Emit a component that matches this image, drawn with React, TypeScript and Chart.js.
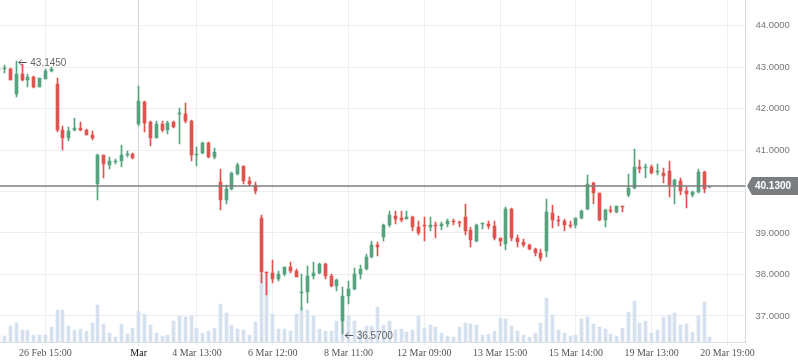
import React, { useEffect, useRef } from 'react';
import { Chart, registerables } from 'chart.js';

Chart.register(...registerables);

// OHLC per hourly candle (index = candle slot)
const opens = [
  42.95, 42.94, 42.95, 42.34, 42.83, 42.69, 42.76, 42.53, 42.72, 42.91,
  42.59, 41.48, 41.29, 41.48, 41.53, 41.48, 41.36, 40.17, 40.88, 40.64,
  40.72, 40.73, 40.89, 40.90, 41.63, 42.16, 41.67, 41.29, 41.63, 41.48,
  41.67, 41.86, 41.87, 41.70, 40.88, 40.93, 41.17, 40.83, 40.23, 39.80,
  40.07, 40.42, 40.61, 40.25, 40.16, 39.35, 38.06, 38.04, 37.90, 38.01,
  38.18, 38.09, 37.55, 37.58, 37.96, 38.04, 38.25, 37.96, 37.72, 36.88,
  37.48, 37.65, 38.01, 38.13, 38.42, 38.71, 38.90, 39.19, 39.41, 39.35,
  39.34, 39.39, 39.14, 39.18, 39.14, 39.20, 39.17, 39.22, 39.28, 39.25,
  39.39, 39.07, 38.81, 39.21, 39.22, 39.17, 38.88, 38.73, 39.58, 38.88,
  38.78, 38.71, 38.61, 38.52, 38.57, 39.48, 39.32, 39.29, 39.20, 39.19,
  39.36, 39.58, 40.20, 39.96, 39.31, 39.54, 39.50, 39.65, 39.91, 40.08,
  40.59, 40.56, 40.59, 40.46, 40.45, 40.49, 40.16, 40.25, 40.01, 39.92,
  39.99, 40.47, 40.12,
];
const highs = [
  42.96, 43.05, 42.97, 43.145, 43.07, 42.83, 42.78, 42.74, 42.95, 42.99,
  42.73, 41.58, 41.55, 41.77, 41.67, 41.51, 41.46, 40.90, 40.89, 40.83,
  40.78, 41.12, 40.98, 40.93, 42.54, 42.17, 41.70, 41.70, 41.70, 41.70,
  41.70, 42.01, 42.13, 41.72, 41.07, 41.19, 41.19, 41.05, 40.54, 40.16,
  40.48, 40.68, 40.62, 40.35, 40.24, 39.43, 38.07, 38.35, 38.09, 38.19,
  38.30, 38.13, 38.00, 38.20, 38.30, 38.28, 38.28, 38.01, 37.89, 37.70,
  37.85, 38.16, 38.23, 38.49, 38.81, 38.78, 39.21, 39.53, 39.53, 39.53,
  39.53, 39.41, 39.29, 39.39, 39.39, 39.27, 39.27, 39.34, 39.34, 39.29,
  39.70, 39.14, 39.22, 39.24, 39.29, 39.29, 38.89, 39.63, 39.60, 38.95,
  38.86, 38.73, 38.64, 38.61, 39.82, 39.67, 39.41, 39.34, 39.29, 39.36,
  39.55, 40.40, 40.23, 39.97, 39.58, 39.65, 39.66, 39.66, 40.42, 41.02,
  40.76, 40.66, 40.64, 40.66, 40.57, 40.73, 40.30, 40.33, 40.11, 40.00,
  40.54, 40.49, 40.12,
];
const lows = [
  42.92, 42.86, 42.68, 42.28, 42.67, 42.53, 42.50, 42.52, 42.71, 42.88,
  41.43, 41.00, 41.22, 41.45, 41.45, 41.35, 41.24, 39.80, 40.33, 40.54,
  40.66, 40.59, 40.83, 40.78, 41.58, 41.43, 41.10, 41.28, 41.43, 41.39,
  41.53, 41.14, 41.65, 40.73, 40.61, 40.90, 40.81, 40.78, 39.55, 39.70,
  40.04, 40.40, 40.18, 40.13, 39.94, 37.79, 37.51, 37.79, 37.85, 37.97,
  38.04, 37.93, 37.15, 37.32, 37.90, 38.02, 37.88, 37.70, 37.60, 36.57,
  37.30, 37.63, 37.89, 38.11, 38.40, 38.45, 38.81, 39.14, 39.22, 39.27,
  39.33, 39.05, 38.95, 38.81, 39.05, 38.88, 39.07, 39.14, 39.20, 39.14,
  38.95, 38.66, 38.78, 39.10, 39.10, 38.83, 38.69, 38.59, 38.81, 38.66,
  38.66, 38.59, 38.45, 38.33, 38.42, 39.12, 39.17, 39.05, 39.12, 39.12,
  39.34, 39.55, 39.70, 39.29, 39.14, 39.48, 39.48, 39.50, 39.87, 40.06,
  40.45, 40.33, 40.42, 40.40, 40.20, 39.87, 39.70, 39.92, 39.60, 39.87,
  39.96, 39.96, 40.12,
];
const closes = [
  42.93, 42.96, 42.69, 42.83, 42.69, 42.76, 42.52, 42.73, 42.91, 42.95,
  41.48, 41.29, 41.46, 41.52, 41.48, 41.37, 41.29, 40.88, 40.66, 40.73,
  40.74, 40.88, 40.91, 40.81, 42.18, 41.65, 41.29, 41.63, 41.48, 41.65,
  41.55, 41.88, 41.70, 40.88, 40.91, 41.17, 40.83, 40.95, 39.80, 40.06,
  40.44, 40.63, 40.25, 40.18, 40.02, 38.07, 38.03, 37.90, 38.01, 38.18,
  38.09, 37.95, 37.58, 37.96, 38.04, 38.25, 37.96, 37.72, 37.87, 37.48,
  37.65, 38.01, 38.13, 38.42, 38.71, 38.66, 39.19, 39.43, 39.34, 39.31,
  39.39, 39.14, 39.00, 39.16, 39.19, 39.18, 39.22, 39.29, 39.26, 39.23,
  39.05, 38.83, 39.19, 39.23, 39.17, 38.88, 38.81, 39.58, 38.88, 38.78,
  38.71, 38.61, 38.52, 38.40, 39.50, 39.31, 39.29, 39.19, 39.18, 39.36,
  39.53, 40.18, 39.96, 39.31, 39.55, 39.52, 39.65, 39.63, 40.08, 40.59,
  40.54, 40.58, 40.45, 40.48, 40.37, 40.16, 40.28, 40.01, 39.94, 39.99,
  40.47, 40.06, 40.12,
];
const volumes = [
  8, 7, 17, 20, 13, 13, 8, 8, 8, 16,
  33, 33, 17, 13, 14, 12, 20, 38, 19, 10,
  6, 19, 9, 15, 32, 29, 18, 10, 7, 8,
  22, 27, 26, 27, 15, 10, 12, 15, 39, 30,
  18, 14, 13, 8, 21, 69, 69, 29, 14, 14,
  12, 29, 36, 33, 27, 14, 12, 12, 22, 26,
  27, 22, 13, 17, 17, 36, 18, 22, 13, 14,
  11, 13, 27, 15, 18, 16, 10, 7, 6, 16,
  20, 19, 18, 8, 9, 12, 25, 24, 17, 12,
  8, 6, 10, 20, 45, 28, 13, 10, 7, 8,
  24, 26, 19, 16, 14, 9, 7, 15, 31, 42,
  20, 22, 10, 13, 26, 28, 30, 18, 19, 11,
  27, 41, 6,
];

const tickIndices = [8, 24, 34, 47, 60, 73, 86, 99, 112, 125];
const tickLabels = [
  '26 Feb 15:00', 'Mar', '4 Mar 13:00', '6 Mar 12:00', '8 Mar 11:00',
  '12 Mar 09:00', '13 Mar 15:00', '15 Mar 14:00', '19 Mar 13:00', '20 Mar 19:00',
];
const majorTick = 24;
const priceTicks = [37, 38, 39, 40, 41, 42, 43, 44];
const lastPrice = 40.13;

const GREEN = '#55a47e';
const RED = '#e0534f';
const NEUTRAL = '#8a8a8a';

function candleColor(i: number) {
  if (closes[i] > opens[i]) return GREEN;
  if (closes[i] < opens[i]) return RED;
  return NEUTRAL;
}

const NUM_FONT = '"Liberation Sans", Arial, sans-serif';

const crispPlugin = {
  id: 'crisp',
  beforeDatasetsDraw(chart: any) {
    chart.getSortedVisibleDatasetMetas().forEach((meta: any) => {
      meta.data.forEach((el: any) => {
        el.x = Math.floor(el.x) + 0.5;
        const y = Math.round(el.y);
        let base = Math.round(el.base);
        if (Math.abs(base - y) < 1) base = y + 1;
        el.y = y;
        el.base = base;
      });
    });
  },
};

const overlayPlugin = {
  id: 'overlay',
  afterDatasetsDraw(chart: any) {
    const { ctx, chartArea, scales } = chart;
    const xs = scales.x;
    const ys = scales.y;
    ctx.save();
    // last price line
    const py = ys.getPixelForValue(lastPrice);
    ctx.strokeStyle = '#7d7d7d';
    ctx.lineWidth = 1.5;
    ctx.beginPath();
    ctx.moveTo(chartArea.left, py);
    ctx.lineTo(chartArea.right, py);
    ctx.stroke();

    // high / low annotations
    let hi = 0;
    let lo = 0;
    highs.forEach((v, i) => { if (v > highs[hi]) hi = i; });
    lows.forEach((v, i) => { if (v < lows[lo]) lo = i; });
    const marks = [
      { i: hi, v: highs[hi] },
      { i: lo, v: lows[lo] },
    ];
    ctx.font = '10px ' + NUM_FONT;
    ctx.textBaseline = 'middle';
    ctx.textAlign = 'left';
    marks.forEach((m) => {
      const x = xs.getPixelForValue(m.i);
      const y = Math.round(ys.getPixelForValue(m.v)) + 1.5;
      ctx.strokeStyle = '#555';
      ctx.lineWidth = 1;
      ctx.beginPath();
      ctx.moveTo(x + 2.5, y);
      ctx.lineTo(x + 10.5, y);
      ctx.moveTo(x + 5.5, y - 3);
      ctx.lineTo(x + 2.5, y);
      ctx.lineTo(x + 5.5, y + 3);
      ctx.stroke();
      ctx.fillStyle = '#666';
      ctx.fillText(m.v.toFixed(4), x + 14, y + 0.5);
    });
    ctx.restore();
  },
  afterDraw(chart: any) {
    const { ctx, chartArea, scales, width } = chart;
    const ys = scales.y;
    const py = ys.getPixelForValue(lastPrice);
    const left = chartArea.right + 1.5;
    const top = py - 9;
    const bottom = py + 9;
    ctx.save();
    ctx.fillStyle = '#7b7e81';
    ctx.beginPath();
    ctx.moveTo(left + 5, top);
    ctx.lineTo(width, top);
    ctx.lineTo(width, bottom);
    ctx.lineTo(left + 5, bottom);
    ctx.lineTo(left, py);
    ctx.closePath();
    ctx.fill();
    ctx.fillStyle = '#ffffff';
    ctx.font = 'bold 10px ' + NUM_FONT;
    ctx.textAlign = 'center';
    ctx.textBaseline = 'middle';
    ctx.fillText(lastPrice.toFixed(4), left + 26, py + 0.5);
    ctx.restore();
  },
};

export default function App() {
  const ref = useRef<HTMLCanvasElement>(null);

  useEffect(() => {
    document.body.style.margin = '0';
    const idx = opens.map((_, i) => i);
    const colors = idx.map(candleColor);
    const chart = new Chart(ref.current as HTMLCanvasElement, {
      type: 'bar',
      data: {
        datasets: [
          {
            label: 'Volume',
            data: volumes.map((v, i) => ({ x: i, y: v })) as any,
            yAxisID: 'yv',
            backgroundColor: '#d5e1ee',
            barThickness: 3,
            grouped: false,
            order: 3,
          } as any,
          {
            label: 'Wick',
            data: idx.map((i) => ({ x: i, y: [lows[i], highs[i]] })) as any,
            yAxisID: 'y',
            backgroundColor: colors,
            barThickness: 1,
            grouped: false,
            order: 2,
          } as any,
          {
            label: 'Body',
            data: idx.map((i) => ({ x: i, y: [opens[i], closes[i]] })) as any,
            yAxisID: 'y',
            backgroundColor: colors,
            barThickness: 3,
            minBarLength: 1,
            grouped: false,
            order: 1,
          } as any,
        ],
      },
      options: {
        responsive: false,
        animation: false,
        layout: { padding: 0 },
        plugins: {
          legend: { display: false },
          tooltip: { enabled: false },
          title: { display: false },
        },
        scales: {
          x: {
            type: 'linear',
            min: 0.206,
            max: 128.1,
            offset: false,
            grid: {
              offset: false,
              color: (c: any) => (c.tick && c.tick.value === majorTick ? '#d3d6da' : '#eceef1'),
              tickLength: 3,
            },
            border: { display: true, color: '#dcdee1' },
            afterBuildTicks: (scale: any) => {
              scale.ticks = tickIndices.map((v) => ({ value: v }));
            },
            afterFit: (scale: any) => {
              scale.height = 20.5;
              scale.paddingLeft = 0;
              scale.paddingRight = 0;
            },
            ticks: {
              autoSkip: false,
              maxRotation: 0,
              minRotation: 0,
              padding: 2,
              callback: (v: any) => {
                const k = tickIndices.indexOf(Number(v));
                return k >= 0 ? tickLabels[k] : '';
              },
              color: (c: any) => (c.tick && c.tick.value === majorTick ? '#111' : '#555'),
              font: { family: '"Liberation Serif", "Times New Roman", serif', size: 10 },
            },
          } as any,
          y: {
            type: 'linear',
            position: 'right',
            min: 36.3614,
            max: 44.6145,
            beginAtZero: false,
            grid: { color: '#eceef1', drawTicks: false },
            border: { display: true, color: '#d6d8db' },
            afterBuildTicks: (scale: any) => {
              scale.ticks = priceTicks.map((v) => ({ value: v }));
            },
            afterFit: (scale: any) => {
              scale.width = 52.5;
              scale.paddingTop = 0;
              scale.paddingBottom = 0;
            },
            ticks: {
              padding: 10,
              color: '#777',
              font: { family: NUM_FONT, size: 9.5 },
              callback: (v: any) => Number(v).toFixed(4),
            },
          } as any,
          yv: {
            type: 'linear',
            display: false,
            min: 0,
            max: 342.5,
            beginAtZero: true,
          } as any,
        },
      } as any,
      plugins: [crispPlugin, overlayPlugin],
    });
    return () => chart.destroy();
  }, []);

  return (
    <div style={{ position: 'absolute', left: 0, top: 0, width: 798, height: 363 }}>
      <canvas ref={ref} width={798} height={363} style={{ display: 'block', width: 798, height: 363 }} />
    </div>
  );
}
